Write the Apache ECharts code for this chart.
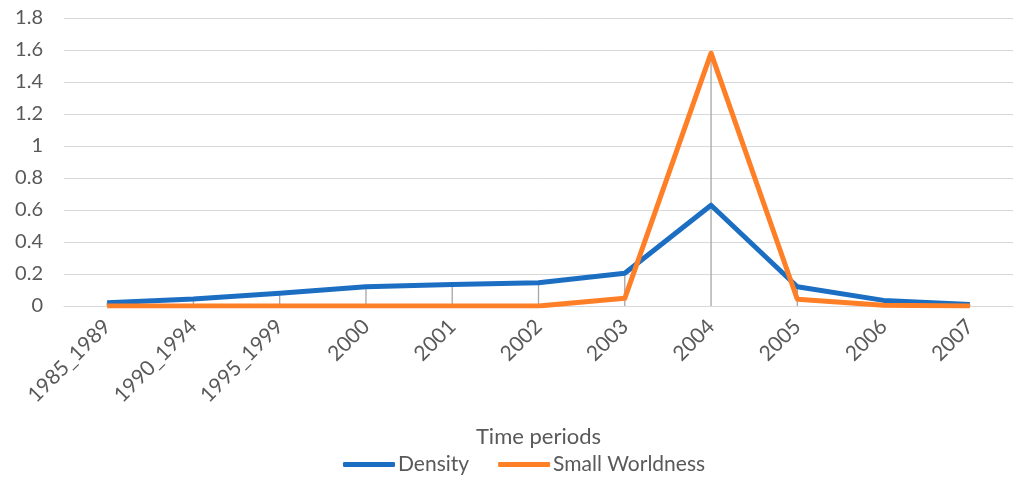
<!DOCTYPE html>
<html><head><meta charset="utf-8">
<script src="https://cdn.jsdelivr.net/npm/echarts@6/dist/echarts.min.js"></script>
<style>html,body{margin:0;padding:0;background:#fff}#c{width:1017px;height:479px}</style>
</head><body><div id="c"></div>
<script>
const categories = ['1985_1989','1990_1994','1995_1999','2000','2001','2002','2003','2004','2005','2006','2007'];
const density = [0.02, 0.044, 0.08, 0.12, 0.135, 0.145, 0.205, 0.63, 0.12, 0.035, 0.01];
const smallWorldness = [0, 0, 0, 0, 0, 0, 0.048, 1.58, 0.042, 0.005, 0];
const yTicks = {min: 0, max: 1.8, interval: 0.2};

const dropLines = categories.map((c, i) => Math.max(density[i], smallWorldness[i]));
const font = 'Lato, "Open Sans", sans-serif';
const chart = echarts.init(document.getElementById('c'), null, {renderer: 'canvas'});
chart.setOption({
  animation: false,
  grid: {left: 64, right: 4, top: 18, bottom: 173},
  legend: {
    data: ['Density', 'Small Worldness'],
    top: 454, left: 343, padding: 0,
    itemWidth: 52, itemHeight: 5, itemGap: 29,
    icon: 'roundRect',
    textStyle: {color: '#595959', fontSize: 21, fontFamily: font, padding: [0, 0, 0, -2]}
  },
  xAxis: {
    type: 'category', data: categories, boundaryGap: true,
    name: 'Time periods', nameLocation: 'middle', nameGap: 120,
    nameTextStyle: {color: '#595959', fontSize: 22, fontFamily: font},
    axisLine: {lineStyle: {color: '#d9d9d9', width: 1}},
    axisTick: {show: false},
    axisLabel: {rotate: 45, color: '#595959', fontSize: 21, fontFamily: font, margin: 17, interval: 0}
  },
  yAxis: {
    type: 'value', min: yTicks.min, max: yTicks.max, interval: yTicks.interval,
    axisLine: {show: false}, axisTick: {show: false},
    splitLine: {lineStyle: {color: '#d9d9d9', width: 1}},
    axisLabel: {color: '#595959', fontSize: 20, fontFamily: font, margin: 21,
      formatter: v => String(Math.round(v * 10) / 10)}
  },
  series: [
    {name: 'drop', type: 'bar', data: dropLines, barWidth: 1.3, silent: true, z: 1,
     itemStyle: {color: '#a6a6a6'}},
    {name: 'Density', type: 'line', data: density, symbol: 'none', z: 3,
     lineStyle: {color: '#1B6EC2', width: 5, join: 'round'}, itemStyle: {color: '#1B6EC2'}},
    {name: 'Small Worldness', type: 'line', data: smallWorldness, symbol: 'none', z: 4,
     lineStyle: {color: '#FF7F27', width: 5, join: 'round'}, itemStyle: {color: '#FF7F27'}}
  ]
});
</script></body></html>
